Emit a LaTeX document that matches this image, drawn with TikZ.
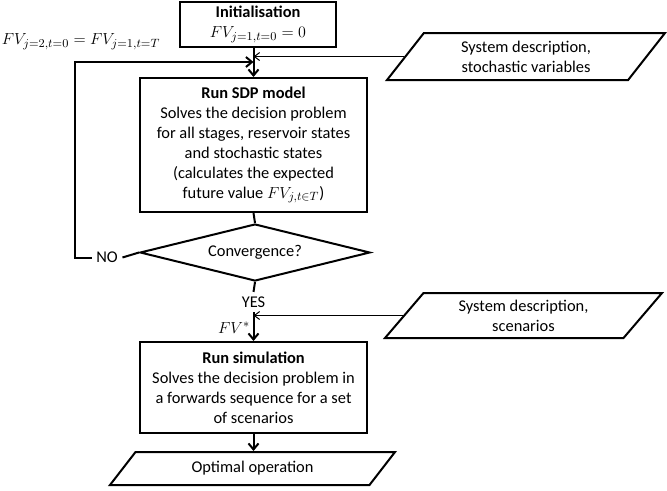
\documentclass[tikz,border=0pt]{standalone}
\usepackage{fontspec}
\setmainfont{Carlito}
\usepackage{tikz}
\usetikzlibrary{arrows.meta, positioning, shapes.geometric}

\begin{document}
\begin{tikzpicture}[
    x=0.75pt, y=-0.75pt,
    font=\fontsize{12.3}{15}\selectfont,
    box/.style={rectangle, draw=black, line width=1.5pt, fill=white, minimum width=170.25pt, align=center, inner sep=2pt},
    decision/.style={diamond, draw=black, line width=1.5pt, aspect=4, inner sep=0pt, minimum width=172.5pt, minimum height=42.75pt},
    data/.style={trapezium, draw=black, line width=1.5pt, trapezium stretches body, align=center, inner sep=0pt},
    arrow/.style={-{Straight Barb[length=4.5pt, width=7.5pt]}, line width=1.5pt},
    feed/.style={-{Straight Barb[length=4pt, width=6pt]}, line width=0.75pt},
    line/.style={line width=1.5pt}
]
\useasboundingbox (0,0) rectangle (667,490);

\node[box, minimum width=117pt, minimum height=33.75pt] (init) at (258,24.5) {\textbf{Initialisation}\\ $FV_{j=1,t=0}=0$};
\node[box, minimum height=100.5pt] (sdp) at (253.5,145) {\textbf{Run SDP model}\\ Solves the decision problem\\ for all stages, reservoir states\\ and stochastic states\\ (calculates the expected\\ future value $FV_{j,t\in T}$)};
\node[decision] (conv) at (255,252.5) {Convergence?};
\node (no) at (107,257.5) {NO};
\node (yes) at (253.5,302) {YES};
\node[box, minimum height=68.25pt] (sim) at (253.5,387.5) {\textbf{Run simulation}\\ Solves the decision problem in\\ a forwards sequence for a set\\ of scenarios};
\node[data, trapezium left angle=28.8, trapezium right angle=151.2, minimum width=213.75pt, minimum height=24.75pt] (out) at (252.5,468.5) {Optimal operation};
\node[data, trapezium left angle=40.5, trapezium right angle=139.5, minimum width=208.5pt, minimum height=35.25pt] (sys1) at (526,56.5) {System description,\\ stochastic variables};
\node[data, trapezium left angle=39.3, trapezium right angle=140.7, minimum width=207.75pt, minimum height=33.75pt] (sys2) at (523.5,315.5) {System description,\\ scenarios};
\node (fvloop) at (81,42) {$FV_{j=2,t=0}=FV_{j=1,t=T}$};
\node (fvstar) at (234,328) {$FV^{*}$};
\coordinate (corner) at (75,62);

% main flow
\draw[arrow] (init.south -| sdp.north) -- (sdp.north);
\draw[line] (sdp.south) -- (conv.north);
\draw[line] (conv.south) -- (yes.north);
\draw[arrow] (yes.south) -- (sim.north);
\draw[arrow] (sim.south) -- (sim.south |- out.north);

% loop back
\draw[line] (conv.west) -- (no.east);
\draw[arrow] (no.west) -| (corner) -- (corner -| sdp.north);

% inputs
\draw[feed] (sys1.west) -- (sys1.west -| sdp.north);
\draw[feed] (sys2.west) -- (sys2.west -| sim.north);
\end{tikzpicture}
\end{document}
